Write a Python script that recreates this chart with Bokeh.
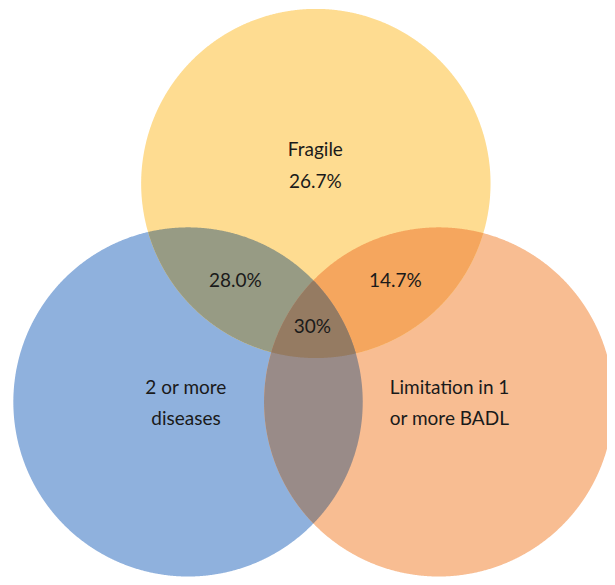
import numpy as np
from bokeh.plotting import figure
from bokeh.models import Range1d
from bokeh.core.properties import value
from bokeh.embed import file_html
from bokeh.resources import INLINE

# ---- data ----
set_names = ["2 or more\ndiseases", "Limitation in 1\nor more BADL", "Fragile\n26.7%"]
pair_labels = ["28.0%", "14.7%"]          # Fragile∩diseases, Fragile∩BADL
triple_label = "30%"

# ---- layout (pixel-like units) ----
cx = [190.0, 444.0, 319.5]
cy = [407.0, 407.0, 185.5]
R = 177.0
set_colors = ["#8FB1DD", "#F8BD92", "#FEDC91"]
pair_colors = {(0, 2): "#979B84", (1, 2): "#F5A65E", (0, 1): "#998B88"}
triple_color = "#957B62"

p = figure(width=607, height=577, output_backend="svg", toolbar_location=None,
           x_range=Range1d(0, 615), y_range=Range1d(585, 0),
           min_border=0, outline_line_color=None, match_aspect=False)
p.axis.visible = False
p.grid.visible = False
p.background_fill_color = "white"
p.border_fill_color = "white"

t = np.linspace(0, 2 * np.pi, 1440, endpoint=False)


def region(idx):
    pts = []
    for i in idx:
        xs = cx[i] + R * np.cos(t)
        ys = cy[i] + R * np.sin(t)
        ok = np.ones_like(xs, dtype=bool)
        for j in idx:
            if j != i:
                ok &= (xs - cx[j]) ** 2 + (ys - cy[j]) ** 2 <= R ** 2 + 1e-6
        pts.append(np.c_[xs[ok], ys[ok]])
    pts = np.vstack(pts)
    m = pts.mean(axis=0)
    order = np.argsort(np.arctan2(pts[:, 1] - m[1], pts[:, 0] - m[0]))
    pts = pts[order]
    return list(pts[:, 0]), list(pts[:, 1])


# full circles (as patches so scaling stays exact in both directions)
for i in range(3):
    xs, ys = region([i])
    p.patch(xs, ys, fill_color=set_colors[i], line_color=None)

for (a, b), col in pair_colors.items():
    xs, ys = region([a, b])
    p.patch(xs, ys, fill_color=col, line_color=None)

xs, ys = region([0, 1, 2])
p.patch(xs, ys, fill_color=triple_color, line_color=None)

font = value("Lato")
txt_col = "#1a1a1a"
fs = "19px"

# set labels
lab_x = [188, 455, 319]
lab_y = [407, 407, 166]
p.text(x=lab_x, y=lab_y, text=set_names, text_font=font, text_font_size=fs,
       text_align="center", text_baseline="middle", text_color=txt_col,
       text_line_height=1.38)

p.text(x=[238, 400], y=[283, 283], text=pair_labels, text_font=font,
       text_font_size=fs, text_align="center", text_baseline="middle",
       text_color=txt_col)
p.text(x=[316], y=[330], text=[triple_label], text_font=font,
       text_font_size=fs, text_align="center", text_baseline="middle",
       text_color=txt_col)

open("out.html", "w").write(file_html(p, INLINE))
